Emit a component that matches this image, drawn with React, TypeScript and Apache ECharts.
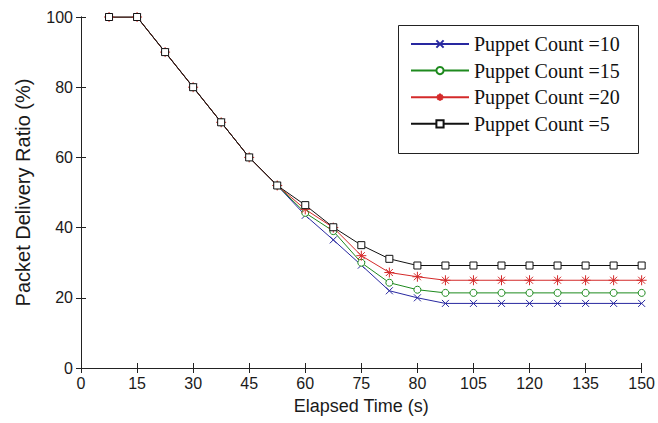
import React, { useEffect, useRef } from "react";
import * as echarts from "echarts";

const times = [7.5, 15, 22.5, 30, 37.5, 45, 52.5, 60, 67.5, 75, 82.5, 90, 97.5, 105, 112.5, 120, 127.5, 135, 142.5, 150];
const puppet10 = [100, 100, 90, 80, 70, 60, 52, 43.5, 36.5, 29.3, 22, 20, 18.4, 18.4, 18.4, 18.4, 18.4, 18.4, 18.4, 18.4];
const puppet15 = [100, 100, 90, 80, 70, 60, 52, 44.2, 39, 30, 24.3, 22.3, 21.4, 21.4, 21.4, 21.4, 21.4, 21.4, 21.4, 21.4];
const puppet20 = [100, 100, 90, 80, 70, 60, 52, 45.2, 40, 32, 27.2, 26, 25, 25, 25, 25, 25, 25, 25, 25];
const puppet5 = [100, 100, 90, 80, 70, 60, 52, 46.4, 40.1, 35, 31.1, 29.2, 29.2, 29.2, 29.2, 29.2, 29.2, 29.2, 29.2, 29.2];

const xTickValues = [0, 15, 30, 45, 60, 75, 90, 105, 120, 135, 150];
const xTickLabels = ["0", "15", "30", "45", "60", "75", "80", "105", "120", "135", "150"];

const seriesNames = ["Puppet Count =10", "Puppet Count =15", "Puppet Count =20", "Puppet Count =5"];

const X_SYMBOL = "path://M0 0 L10 10 M10 0 L0 10";
const STAR_SYMBOL = "path://M5 0 L5 10 M0 5 L10 5 M1.5 1.5 L8.5 8.5 M8.5 1.5 L1.5 8.5";

export default function App() {
  const ref = useRef<HTMLDivElement>(null);
  useEffect(() => {
    if (!ref.current) return;
    const chart = echarts.init(ref.current, undefined, { renderer: "svg" });
    const pair = (ys: number[]) => times.map((t, i) => [t, ys[i]]);
    const tickFont = { fontFamily: "Liberation Sans", fontSize: 16, color: "#1a1a1a" };
    const mk = (name: string, data: number[], color: string, symbol: string, size: number, fill: string) => ({
      name,
      type: "line",
      data: pair(data),
      symbol,
      symbolSize: size,
      showSymbol: true,
      lineStyle: { color, width: 1 },
      itemStyle: { color: fill, borderColor: color, borderWidth: 1 },
      emphasis: { disabled: true },
    });
    chart.setOption({
      animation: false,
      backgroundColor: "#ffffff",
      grid: { left: 81, top: 17, right: 16, bottom: 55 },
      xAxis: [
        {
          type: "value",
          min: 0,
          max: 150,
          interval: 15,
          name: "Elapsed Time (s)",
          nameLocation: "middle",
          nameGap: 29,
          nameTextStyle: { fontFamily: "Liberation Sans", fontSize: 18, color: "#1a1a1a" },
          axisLine: { show: true, lineStyle: { color: "#222", width: 1 } },
          axisTick: { show: true, inside: true, length: 5, lineStyle: { color: "#222" } },
          axisLabel: {
            ...tickFont,
            margin: 7,
            formatter: (v: number) => {
              const i = xTickValues.indexOf(v);
              return i >= 0 ? xTickLabels[i] : "";
            },
          },
          splitLine: { show: false },
        },
        {
          type: "value",
          position: "top",
          min: 0,
          max: 150,
          interval: 15,
          axisLine: { show: true, lineStyle: { color: "#222", width: 1 } },
          axisTick: { show: true, inside: true, length: 5, lineStyle: { color: "#222" } },
          axisLabel: { show: false },
          splitLine: { show: false },
        },
      ],
      yAxis: [
        {
          type: "value",
          min: 0,
          max: 100,
          interval: 20,
          name: "Packet Delivery Ratio (%)",
          nameLocation: "middle",
          nameRotate: 90,
          nameGap: 48,
          nameTextStyle: { fontFamily: "Liberation Sans", fontSize: 20, color: "#1a1a1a" },
          axisLine: { show: true, lineStyle: { color: "#222", width: 1 } },
          axisTick: { show: true, inside: true, length: 5, lineStyle: { color: "#222" } },
          axisLabel: { ...tickFont, margin: 8 },
          splitLine: { show: false },
        },
        {
          type: "value",
          position: "right",
          min: 0,
          max: 100,
          interval: 20,
          axisLine: { show: true, lineStyle: { color: "#222", width: 1 } },
          axisTick: { show: true, inside: true, length: 5, lineStyle: { color: "#222" } },
          axisLabel: { show: false },
          splitLine: { show: false },
        },
      ],
      graphic: [
        {
          type: "rect",
          z: 5,
          shape: { x: 398.5, y: 25.5, width: 240, height: 128 },
          style: { fill: "#ffffff", stroke: "#222", lineWidth: 1 },
        },
      ],
      legend: {
        orient: "vertical",
        left: 410,
        top: 34,
        padding: 0,
        z: 10,
        itemWidth: 58,
        itemHeight: 9,
        itemGap: 6.6,
        textStyle: { fontFamily: "Liberation Serif", fontSize: 20, color: "#111" },
        data: seriesNames,
      },
      series: [
        mk(seriesNames[0], puppet10, "#2828a0", X_SYMBOL, 7, "none"),
        mk(seriesNames[1], puppet15, "#1e8a1e", "circle", 7, "#ffffff"),
        mk(seriesNames[2], puppet20, "#d42a2a", STAR_SYMBOL, 10, "none"),
        mk(seriesNames[3], puppet5, "#111111", "rect", 7, "#ffffff"),
      ],
    });
    return () => chart.dispose();
  }, []);
  return <div ref={ref} style={{ position: "absolute", left: 0, top: 0, width: 658, height: 423 }} />;
}
